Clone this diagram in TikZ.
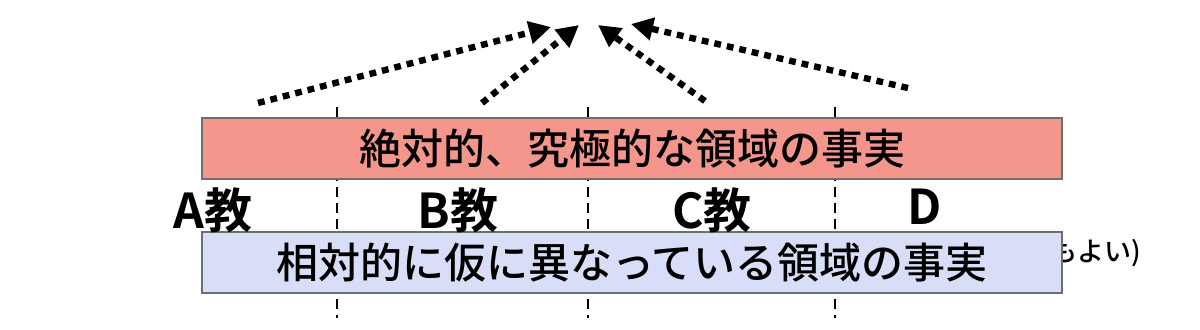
\documentclass[tikz,border=0pt]{standalone}
\usepackage{fontspec}
\setmainfont{Noto Sans CJK JP}
\newfontfamily\jpb{Noto Sans CJK JP Bold}
\newfontfamily\jpm{Noto Sans CJK JP Medium}
\usetikzlibrary{arrows.meta}
\definecolor{boxred}{HTML}{F5968C}
\definecolor{boxblue}{HTML}{D8DEF7}
\definecolor{boxedge}{HTML}{6E6E6E}
\tikzset{
  band/.style={draw=boxedge, line width=1pt, minimum width=430pt, minimum height=30.5pt, inner sep=0pt, font=\jpm\fontsize{21}{24}\selectfont},
  divider/.style={line width=1pt, dash pattern=on 5pt off 3pt},
  pointer/.style={line width=3.2pt, dash pattern=on 3.4pt off 3pt, -{Triangle[length=11pt,width=11pt]}},
  sect/.style={font=\jpb\fontsize{24}{26}\selectfont, inner sep=0pt},
}
\begin{document}
\begin{tikzpicture}[x=0.5pt,y=-0.5pt]
\useasboundingbox (0,0) rectangle (1200,329);
% dividers
\foreach \xx [count=\i] in {337,588,835} {
  \coordinate (dt\i) at (\xx,107);
  \coordinate (db\i) at (\xx,318);
  \draw[divider] (dt\i) -- (db\i);
}
% partially hidden note
\node[anchor=east, inner sep=0pt, font=\jpm\fontsize{13.5}{15}\selectfont] (note) at (1142,253) {もよい)};
% bands
\node[band, fill=boxred] (abs) at (632,148.5) {絶対的、究極的な領域の事実};
\node[band, fill=boxblue] (rel) at (632,262.5) {相対的に仮に異なっている領域の事実};
% section labels
\node[sect] (la) at (213,210) {A教};
\node[sect] (lb) at (458,210) {B教};
\node[sect] (lc) at (712,210) {C教};
\node[sect] (ld) at (925,207) {D};
% pointers
\coordinate (s1) at (258,103); \coordinate (e1) at (551,27);
\coordinate (s2) at (482,103); \coordinate (e2) at (579,25);
\coordinate (s3) at (705,101); \coordinate (e3) at (598,25);
\coordinate (s4) at (908,88);  \coordinate (e4) at (631,24);
\draw[pointer] (s1) -- (e1);
\draw[pointer] (s2) -- (e2);
\draw[pointer] (s3) -- (e3);
\draw[pointer] (s4) -- (e4);
\end{tikzpicture}
\end{document}
